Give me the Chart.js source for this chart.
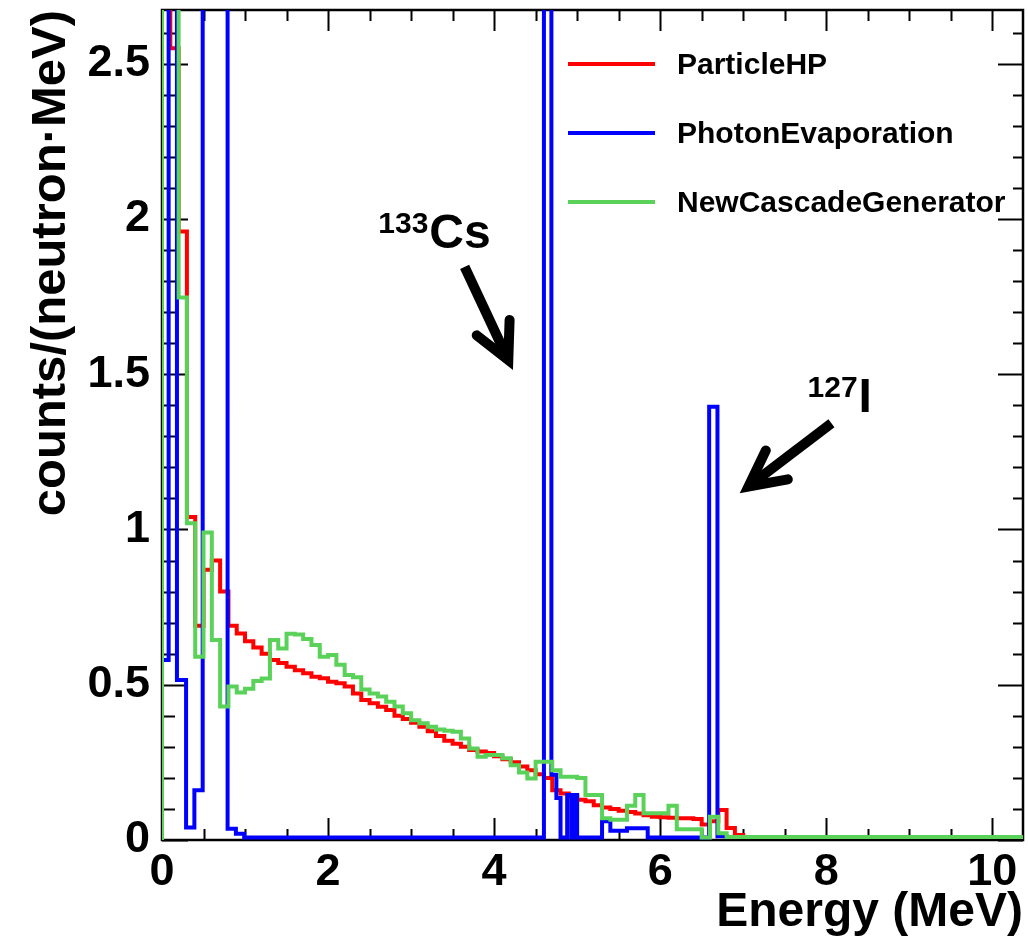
<!DOCTYPE html>
<html>
<head>
<meta charset="utf-8">
<script src="https://cdn.jsdelivr.net/npm/chart.js@4.4.1/dist/chart.umd.min.js"></script>
<style>
html,body{margin:0;padding:0;background:#fff;}
#wrap{width:1028px;height:938px;position:relative;}
</style>
</head>
<body>
<div id="wrap"><canvas id="c"></canvas></div>
<script>
// ---------------- data ----------------
const BIN_WIDTH = 0.1; // MeV, common binning of ParticleHP and NewCascadeGenerator

// ParticleHP counts per 0.1 MeV bin (0 - 10.5 MeV)
const particleHP = [
  3.1, 2.55, 1.96, 1.04, 0.69, 0.87, 0.90, 0.80, 0.69, 0.665,
  0.64, 0.62, 0.60, 0.58, 0.57, 0.558, 0.547, 0.537, 0.526, 0.521,
  0.51, 0.505, 0.494, 0.472, 0.451, 0.44, 0.429, 0.419, 0.40, 0.39,
  0.378, 0.365, 0.35, 0.335, 0.32, 0.31, 0.30, 0.29, 0.285, 0.28,
  0.27, 0.26, 0.25, 0.237, 0.225, 0.212, 0.20, 0.16, 0.15, 0.14,
  0.13, 0.125, 0.112, 0.105, 0.10, 0.094, 0.09, 0.085, 0.08, 0.075,
  0.073, 0.072, 0.07, 0.07, 0.068, 0.05, 0.06, 0.097, 0.039, 0.016,
  0.01, 0.01, 0.01, 0.01, 0.01, 0.01, 0.01, 0.01, 0.01, 0.01,
  0.01, 0.01, 0.01, 0.01, 0.01, 0.01, 0.01, 0.01, 0.01, 0.01,
  0.01, 0.01, 0.01, 0.01, 0.01, 0.01, 0.01, 0.01, 0.01, 0.01,
  0.01, 0.01, 0.01, 0.01, 0.01
];

// NewCascadeGenerator counts per 0.1 MeV bin (0 - 10.5 MeV)
const newCascadeGenerator = [
  3.4, 2.9, 1.747, 1.02, 0.59, 0.99, 0.644, 0.43, 0.494, 0.475,
  0.487, 0.512, 0.52, 0.644, 0.617, 0.664, 0.662, 0.647, 0.628, 0.59,
  0.596, 0.564, 0.531, 0.524, 0.485, 0.472, 0.462, 0.445, 0.43, 0.408,
  0.386, 0.376, 0.365, 0.356, 0.352, 0.349, 0.327, 0.295, 0.268, 0.274,
  0.274, 0.263, 0.241, 0.217, 0.198, 0.252, 0.252, 0.225, 0.204, 0.204,
  0.20, 0.145, 0.145, 0.07, 0.065, 0.065, 0.11, 0.145, 0.086, 0.086,
  0.086, 0.11, 0.035, 0.035, 0.035, 0.008, 0.075, 0.022, 0.01, 0.01,
  0.01, 0.01, 0.01, 0.01, 0.01, 0.01, 0.01, 0.01, 0.01, 0.01,
  0.01, 0.01, 0.01, 0.01, 0.01, 0.01, 0.01, 0.01, 0.01, 0.01,
  0.01, 0.01, 0.01, 0.01, 0.01, 0.01, 0.01, 0.01, 0.01, 0.01,
  0.01, 0.01, 0.01, 0.01, 0.01
];

// PhotonEvaporation: bin edges (MeV) and counts
const photonEvapEdges = [
  0, 0.08, 0.18, 0.29, 0.39, 0.49, 0.59, 0.69, 0.79, 0.89, 0.99,
  4.6, 4.69, 4.75, 4.8, 4.88, 4.93, 4.96, 5.0, 5.3, 5.4, 5.6, 5.85,
  6.59, 6.69, 6.8, 10.5
];
const photonEvapCounts = [
  0.58, 4.3, 0.515, 0.04, 0.16, 3.2, 5.6, 3.4, 0.036, 0.02,
  0.008, 4.7, 0.21, 0.135, 0.008, 0.145, 0.008, 0.145, 0.008, 0.06,
  0.03, 0.038, 0.008, 1.395, 0.012, 0.01
];

const seriesNames  = ['ParticleHP', 'PhotonEvaporation', 'NewCascadeGenerator'];
const seriesColors = ['#ff0000', '#0000ff', '#5ad25a'];

const xRange = [0, 10.37];
const yRange = [0, 2.673];
const xMajorTicks = [0, 2, 4, 6, 8, 10];
const yMajorTicks = [0, 0.5, 1, 1.5, 2, 2.5];
const xMinorStep = 0.5;
const yMinorStep = 0.1;

// annotations (data coordinates)
const labels = [
  {sup: '133', main: 'Cs', x: 3.22, y: 1.907},
  {sup: '127', main: 'I',  x: 8.39, y: 1.379}
];
const arrows = [
  {from: [3.645, 1.846], to: [4.227, 1.514]},
  {from: [8.063, 1.342], to: [6.958, 1.117]}
];

// ---------------- helpers ----------------
const FONT = "'Liberation Sans', Arial, Helvetica, sans-serif";

function uniformEdges(n, w) { const e = []; for (let i = 0; i <= n; i++) e.push(+(i * w).toFixed(6)); return e; }
function histPoints(edges, counts) {
  const pts = [{x: edges[0], y: 0}];
  counts.forEach((c, i) => pts.push({x: edges[i], y: c}));
  pts.push({x: edges[counts.length], y: counts[counts.length - 1]});
  return pts;
}

const commonEdges = uniformEdges(particleHP.length, BIN_WIDTH);

const rootPlugin = {
  id: 'rootStyle',
  beforeDatasetsDraw(chart) {
    const {ctx, chartArea: a, scales: {x, y}} = chart;
    ctx.save();
    ctx.strokeStyle = '#000';
    ctx.lineWidth = 2;
    ctx.beginPath();
    for (let i = 0; ; i++) {
      const v = xRange[0] + i * xMinorStep;
      if (v > xRange[1] + 1e-9) break;
      const px = Math.round(x.getPixelForValue(v)) + 0.5;
      const major = xMajorTicks.some(t => Math.abs(t - v) < 1e-6);
      const lb = major ? 22 : 11, lt = major ? 21 : 11;
      ctx.moveTo(px, a.bottom); ctx.lineTo(px, a.bottom - lb);
      ctx.moveTo(px, a.top); ctx.lineTo(px, a.top + lt);
    }
    for (let i = 0; ; i++) {
      const v = yRange[0] + i * yMinorStep;
      if (v > yRange[1] + 1e-9) break;
      const py = Math.round(y.getPixelForValue(v)) + 0.5;
      const major = yMajorTicks.some(t => Math.abs(t - v) < 1e-6);
      const ll = major ? 26 : 13, lr = major ? 25 : 10;
      ctx.moveTo(a.left, py); ctx.lineTo(a.left + ll, py);
      ctx.moveTo(a.right, py); ctx.lineTo(a.right - lr, py);
    }
    ctx.stroke();
    ctx.lineWidth = 2.5;
    ctx.strokeRect(a.left, a.top, a.right - a.left, a.bottom - a.top);
    ctx.restore();
  },
  afterDatasetsDraw(chart) {
    const {ctx, chartArea: a, scales: {x, y}} = chart;
    ctx.save();
    // legend
    const lx0 = 568, lx1 = 655, ly0 = 64, dy = 69;
    seriesNames.forEach((name, i) => {
      const yy = ly0 + i * dy;
      ctx.strokeStyle = seriesColors[i];
      ctx.lineWidth = 4;
      ctx.beginPath(); ctx.moveTo(lx0, yy); ctx.lineTo(lx1, yy); ctx.stroke();
      ctx.fillStyle = '#000';
      ctx.font = 'bold 30px ' + FONT;
      ctx.textAlign = 'left'; ctx.textBaseline = 'middle';
      ctx.fillText(name, 677, yy + 2);
    });
    // isotope labels
    labels.forEach(l => {
      const px = x.getPixelForValue(l.x), py = y.getPixelForValue(l.y);
      ctx.fillStyle = '#000';
      ctx.textBaseline = 'alphabetic';
      ctx.font = 'bold 48px ' + FONT;
      ctx.textAlign = 'left';
      ctx.fillText(l.main, px, py);
      ctx.font = 'bold 30px ' + FONT;
      ctx.textAlign = 'right';
      ctx.fillText(l.sup, px - 1, py - 15);
    });
    // arrows
    arrows.forEach(ar => {
      const tx = x.getPixelForValue(ar.from[0]), ty = y.getPixelForValue(ar.from[1]);
      const hx = x.getPixelForValue(ar.to[0]), hy = y.getPixelForValue(ar.to[1]);
      const len = Math.hypot(hx - tx, hy - ty);
      const ux = (hx - tx) / len, uy = (hy - ty) / len;
      const lw = 10, th = 27 * Math.PI / 180, L = 40;
      const back = (lw / 2) / Math.sin(th);
      const vx = hx - ux * back, vy = hy - uy * back;
      ctx.strokeStyle = '#000';
      ctx.lineWidth = lw;
      ctx.lineCap = 'butt';
      ctx.beginPath(); ctx.moveTo(tx, ty); ctx.lineTo(vx - ux * 4, vy - uy * 4); ctx.stroke();
      const bx = -ux, by = -uy;
      const r1x = bx * Math.cos(th) - by * Math.sin(th), r1y = bx * Math.sin(th) + by * Math.cos(th);
      const r2x = bx * Math.cos(-th) - by * Math.sin(-th), r2y = bx * Math.sin(-th) + by * Math.cos(-th);
      ctx.lineCap = 'round';
      ctx.lineJoin = 'miter';
      ctx.miterLimit = 10;
      ctx.beginPath();
      ctx.moveTo(vx + r1x * L, vy + r1y * L);
      ctx.lineTo(vx, vy);
      ctx.lineTo(vx + r2x * L, vy + r2y * L);
      ctx.stroke();
    });
    ctx.restore();
  }
};

Chart.defaults.font.family = FONT;
Chart.defaults.color = '#000';

const clipBox = {left: 0, top: 0, right: 0, bottom: 4};

new Chart(document.getElementById('c'), {
  type: 'line',
  data: {
    datasets: [
      {label: seriesNames[0], data: histPoints(commonEdges, particleHP), borderColor: seriesColors[0], order: 3},
      {label: seriesNames[1], data: histPoints(photonEvapEdges, photonEvapCounts), borderColor: seriesColors[1], order: 2},
      {label: seriesNames[2], data: histPoints(commonEdges, newCascadeGenerator), borderColor: seriesColors[2], order: 1}
    ].map(d => Object.assign(d, {stepped: 'before', borderWidth: 4, pointRadius: 0, fill: false, tension: 0, clip: clipBox, borderJoinStyle: 'miter', borderCapStyle: 'butt'}))
  },
  options: {
    responsive: true,
    maintainAspectRatio: false,
    animation: false,
    devicePixelRatio: 1,
    events: [],
    layout: {padding: {left: 0, top: 10, right: 5, bottom: 0}},
    plugins: {legend: {display: false}, tooltip: {enabled: false}},
    scales: {
      x: {
        type: 'linear', min: xRange[0], max: xRange[1],
        border: {display: false},
        grid: {display: false, drawTicks: false},
        ticks: {stepSize: 2, includeBounds: false, autoSkip: false, maxRotation: 0, padding: 10,
                font: {size: 45, weight: 'bold', lineHeight: 1}, color: '#000',
                callback: v => String(v)},
        title: {display: true, text: 'Energy (MeV)', align: 'end', color: '#000',
                font: {size: 48, weight: 'bold', lineHeight: 1}, padding: {top: 0, bottom: 1}},
        afterFit: s => { s.height = 98; s.paddingLeft = 0; s.paddingRight = 0; }
      },
      y: {
        type: 'linear', min: yRange[0], max: yRange[1],
        border: {display: false},
        grid: {display: false, drawTicks: false},
        ticks: {stepSize: 0.5, includeBounds: false, autoSkip: false, padding: 12,
                font: {size: 45, weight: 'bold', lineHeight: 1}, color: '#000',
                callback: v => String(v)},
        title: {display: true, text: 'counts/(neutron\u00b7MeV)', align: 'end', color: '#000',
                font: {size: 49, weight: 'bold', lineHeight: 1}, padding: {top: 27, bottom: 0}},
        afterFit: s => { s.width = 162; s.paddingTop = 0; s.paddingBottom = 0; }
      }
    }
  },
  plugins: [rootPlugin]
});
</script>
</body>
</html>
